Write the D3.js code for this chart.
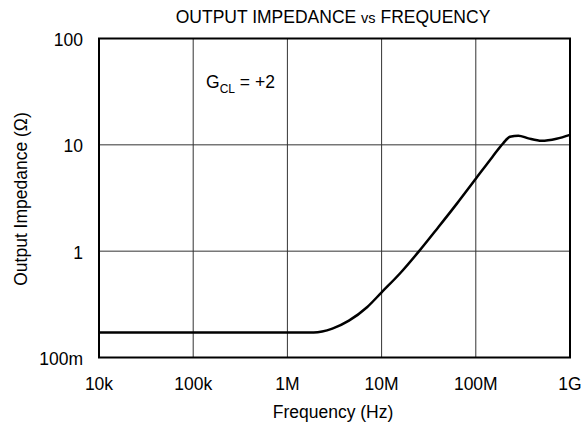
<!DOCTYPE html>
<html>
<head>
<meta charset="utf-8">
<script src="https://cdn.jsdelivr.net/npm/d3@7"></script>
<style>
  body { margin: 0; background: #fff; }
  text { font-family: "Liberation Sans", Arial, sans-serif; fill: #000; }
</style>
</head>
<body>
<svg id="chart"></svg>
<script>
const WIDTH = 584;
const HEIGHT = 425;

// data
const freqHz = [1e4, 1.9e6, 3e6, 4.5e6, 7e6, 1e7, 1.6e7, 2.5e7, 4e7, 6.3e7,
  1e8, 1.5e8, 1.96e8, 2.31e8, 2.83e8, 3.61e8, 5.0e8, 7.2e8, 1e9];
const impedanceOhm = [0.172, 0.172, 0.187, 0.222, 0.297, 0.41, 0.63, 1.0, 1.68, 2.8,
  4.8, 7.7, 10.4, 11.9, 12.2, 11.5, 10.9, 11.4, 12.4];

const xTicks = [1e4, 1e5, 1e6, 1e7, 1e8, 1e9];
const xTickLabels = ["10k", "100k", "1M", "10M", "100M", "1G"];
const yTicks = [0.1, 1, 10, 100];
const yTickLabels = ["100m", "1", "10", "100"];

const margin = { top: 38.5, right: 14, bottom: 67.5, left: 99 };

const svg = d3.select("#chart").attr("width", WIDTH).attr("height", HEIGHT);

const x = d3.scaleLog().domain([1e4, 1e9]).range([margin.left, WIDTH - margin.right]);
const y = d3.scaleLog().domain([0.1, 100]).range([HEIGHT - margin.bottom, margin.top]);

// grid
svg.append("g")
  .selectAll("line")
  .data(xTicks.slice(1, -1))
  .join("line")
  .attr("x1", (d) => x(d)).attr("x2", (d) => x(d))
  .attr("y1", y(100)).attr("y2", y(0.1))
  .attr("stroke", "#333").attr("stroke-width", 1);

svg.append("g")
  .selectAll("line")
  .data(yTicks.slice(1, -1))
  .join("line")
  .attr("x1", x(1e4)).attr("x2", x(1e9))
  .attr("y1", (d) => y(d)).attr("y2", (d) => y(d))
  .attr("stroke", "#333").attr("stroke-width", 1);

// frame
svg.append("rect")
  .attr("x", x(1e4)).attr("y", y(100))
  .attr("width", x(1e9) - x(1e4)).attr("height", y(0.1) - y(100))
  .attr("fill", "none").attr("stroke", "#000").attr("stroke-width", 2);

// tick labels
svg.append("g")
  .selectAll("text")
  .data(xTicks)
  .join("text")
  .attr("x", (d) => x(d))
  .attr("y", 390)
  .attr("text-anchor", "middle")
  .attr("font-size", 17.5)
  .text((d, i) => xTickLabels[i]);

svg.append("g")
  .selectAll("text")
  .data(yTicks)
  .join("text")
  .attr("x", 83)
  .attr("y", (d) => y(d) + 7.5)
  .attr("text-anchor", "end")
  .attr("font-size", 17.5)
  .text((d, i) => yTickLabels[i]);

// curve
const line = d3.line()
  .x((d) => x(d[0]))
  .y((d) => y(d[1]))
  .curve(d3.curveMonotoneX);

svg.append("path")
  .datum(freqHz.map((f, i) => [f, impedanceOhm[i]]))
  .attr("d", line)
  .attr("fill", "none")
  .attr("stroke", "#000")
  .attr("stroke-width", 2.5);

// titles
const title = svg.append("text")
  .attr("x", 333).attr("y", 23)
  .attr("text-anchor", "middle")
  .attr("font-size", 17.5);
title.append("tspan").text("OUTPUT IMPEDANCE ");
title.append("tspan").attr("font-size", 14.5).text("vs");
title.append("tspan").text(" FREQUENCY");

svg.append("text")
  .attr("x", 333).attr("y", 418)
  .attr("text-anchor", "middle")
  .attr("font-size", 17.5)
  .text("Frequency (Hz)");

svg.append("text")
  .attr("transform", "translate(27,199) rotate(-90)")
  .attr("text-anchor", "middle")
  .attr("font-size", 17.5)
  .text("Output Impedance (Ω)");

const ann = svg.append("text")
  .attr("x", 206).attr("y", 88)
  .attr("font-size", 17.5);
ann.append("tspan").text("G");
ann.append("tspan").attr("font-size", 12).attr("dy", 5).text("CL");
ann.append("tspan").attr("dy", -5).text(" = +2");
</script>
</body>
</html>
